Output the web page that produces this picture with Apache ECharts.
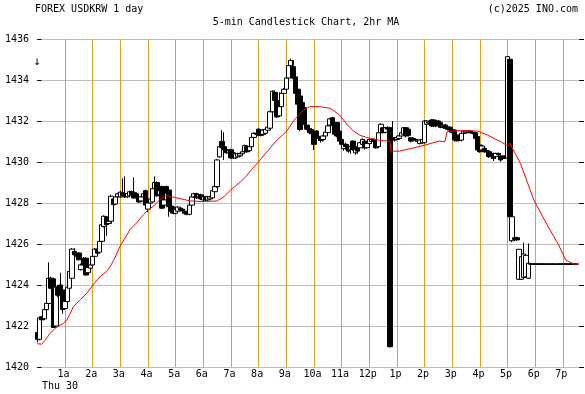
<!DOCTYPE html>
<html>
<head>
<meta charset="utf-8">
<script src="https://cdn.jsdelivr.net/npm/echarts@6/dist/echarts.min.js"></script>
<style>
html,body{margin:0;padding:0;background:#fff;}
#chart{width:585px;height:394px;}
</style>
</head>
<body>
<div id="chart"></div>
<script>
// ---- texts ----
const TITLE_LEFT = 'FOREX USDKRW 1 day';
const TITLE_CENTER = '5-min Candlestick Chart, 2hr MA';
const TITLE_RIGHT = '(c)2025 INO.com';
const DATE_LABEL = 'Thu 30';

// ---- x axis: hour marks (minutes from midnight) and their labels ----
const HOUR_MINUTES = [60,120,180,240,300,360,420,480,540,600,660,720,780,840,900,960,1020,1080,1140];
const HOUR_LABELS = ['1a','2a','3a','4a','5a','6a','7a','8a','9a','10a','11a','12p','1p','2p','3p','4p','5p','6p','7p'];

// ---- y axis ----
const Y_MIN = 1420, Y_MAX = 1436, Y_STEP = 2;

// ---- 5-min candles: [minute, open, close, low, high] ----
const CANDLES_NIGHT = [
[0,1421.68,1421.35,1421.20,1421.75],[5,1421.35,1422.40,1421.30,1422.45],[10,1422.45,1422.30,1422.25,1422.50],
[15,1422.35,1422.80,1422.30,1422.85],[20,1422.80,1423.10,1422.75,1423.50],[25,1423.10,1424.33,1423.05,1425.10],
[30,1424.33,1423.84,1423.80,1424.40],[35,1424.30,1421.93,1421.90,1424.35],[40,1422.00,1423.90,1421.95,1424.00],
[45,1423.90,1423.50,1423.40,1424.00],[50,1424.00,1423.60,1423.55,1424.60],[55,1423.76,1422.81,1422.60,1423.80],
[60,1422.85,1423.20,1422.80,1423.30],[65,1423.19,1423.89,1423.15,1423.95],[70,1423.84,1424.66,1423.80,1424.70],
[75,1424.33,1425.75,1424.30,1425.80],[80,1425.64,1425.47,1425.20,1425.80],[85,1425.50,1425.40,1425.30,1425.60],
[90,1425.56,1425.23,1425.20,1425.60],[95,1424.75,1424.98,1424.70,1425.05],[100,1425.30,1424.98,1424.90,1425.35],
[105,1425.31,1424.49,1424.45,1425.35],[110,1424.60,1424.85,1424.55,1424.90],[115,1424.82,1424.98,1424.78,1425.05],
[120,1424.98,1425.40,1424.95,1425.45],[125,1425.40,1425.75,1425.35,1425.80],[130,1425.75,1425.55,1425.50,1425.80],
[135,1425.60,1426.13,1425.55,1426.15],[140,1426.13,1426.94,1426.10,1427.00],[145,1426.86,1427.35,1426.80,1427.40],
[150,1427.32,1426.94,1426.40,1427.35],[155,1427.00,1427.11,1426.95,1427.20],[160,1427.11,1428.33,1427.05,1428.40],
[165,1428.20,1427.92,1427.85,1428.25],[170,1427.95,1428.30,1427.90,1428.35],[175,1428.30,1428.45,1428.25,1428.50],
[180,1428.30,1428.53,1428.25,1428.60],[185,1428.50,1428.35,1428.30,1429.20],[190,1428.45,1428.30,1428.25,1429.30],
[195,1428.30,1428.45,1428.25,1428.50],[200,1428.35,1428.55,1428.30,1428.60],[205,1428.55,1428.40,1428.35,1428.60],
[210,1428.50,1428.25,1428.20,1429.25],[215,1428.45,1428.25,1428.20,1428.50],[220,1428.25,1428.05,1428.00,1428.30],
[225,1428.10,1428.30,1428.05,1428.35],[230,1428.30,1428.45,1428.25,1428.50],[235,1428.60,1427.90,1427.85,1428.65],
[240,1427.70,1428.00,1427.55,1428.05],[245,1428.00,1428.20,1427.95,1428.25],[250,1428.05,1428.70,1428.00,1428.75],
[255,1428.70,1429.00,1428.65,1429.30],[260,1429.00,1428.35,1428.30,1429.05],[265,1428.40,1428.60,1428.30,1428.65],
[270,1428.80,1427.75,1427.70,1428.85],[275,1427.90,1428.15,1427.85,1428.20],[280,1428.80,1428.47,1428.40,1428.85],
[285,1428.63,1427.82,1427.33,1428.65],[290,1427.85,1427.60,1427.50,1427.90],[295,1427.80,1427.50,1427.45,1427.85]
];
const CANDLES_MORNING = [
[300,1427.50,1427.70,1427.45,1427.75],[305,1427.60,1427.80,1427.55,1427.85],[310,1427.75,1427.65,1427.60,1427.80],
[315,1427.70,1427.62,1427.55,1427.75],[320,1427.60,1427.50,1427.45,1427.65],[325,1427.55,1427.45,1427.40,1427.60],
[330,1427.45,1427.90,1427.40,1427.95],[335,1427.90,1428.30,1427.85,1428.35],[340,1428.30,1428.45,1428.25,1428.50],
[345,1428.45,1428.25,1428.20,1428.50],[350,1428.30,1428.40,1428.25,1428.45],[355,1428.40,1428.20,1428.15,1428.45],
[360,1428.15,1428.30,1428.10,1428.35],[365,1428.30,1428.15,1428.10,1428.35],[370,1428.15,1428.30,1428.10,1428.35],
[375,1428.20,1428.30,1428.15,1428.35],[380,1428.25,1428.60,1428.20,1428.65],[385,1428.55,1428.80,1428.50,1428.85],
[390,1428.80,1430.10,1428.75,1430.15],[395,1430.25,1430.75,1430.20,1430.80],[400,1431.00,1430.70,1430.40,1431.55],
[405,1430.75,1430.60,1430.10,1431.45],[410,1430.60,1430.45,1430.40,1430.65],[415,1430.45,1430.55,1430.40,1430.60],
[420,1430.60,1430.20,1430.15,1430.65],[425,1430.45,1430.20,1430.15,1430.50],[430,1430.20,1430.40,1430.15,1430.45],
[435,1430.25,1430.40,1430.20,1430.45],[440,1430.30,1430.40,1430.25,1430.45],[445,1430.40,1430.50,1430.35,1430.55],
[450,1430.50,1430.80,1430.45,1430.85],[455,1430.75,1430.50,1430.45,1430.80],[460,1430.55,1430.75,1430.50,1430.80],
[465,1430.75,1431.20,1430.70,1431.25],[470,1431.20,1431.40,1431.15,1431.45],[475,1431.40,1431.35,1431.30,1431.50],
[480,1431.60,1431.30,1431.25,1431.65],[485,1431.55,1431.30,1431.25,1431.60],[490,1431.35,1431.55,1431.30,1431.60],
[495,1431.40,1431.60,1431.35,1431.65],[500,1431.55,1431.70,1431.50,1431.75],[505,1431.65,1432.45,1431.60,1432.50],
[510,1432.45,1433.45,1432.40,1433.50],[515,1433.40,1433.00,1432.90,1433.50],[520,1433.00,1432.20,1432.15,1433.05],
[525,1432.25,1432.70,1432.20,1433.40],[530,1432.70,1433.35,1432.65,1433.40],[535,1433.35,1433.55,1433.30,1433.60],
[540,1433.55,1434.10,1433.50,1434.15],[545,1434.10,1434.70,1434.05,1434.75],[550,1434.70,1434.95,1434.65,1435.05],
[555,1434.65,1434.10,1434.05,1434.95],[560,1434.15,1433.35,1433.30,1434.20],[565,1433.55,1432.82,1432.75,1433.60],
[570,1433.22,1431.59,1431.50,1433.25],[575,1432.90,1432.57,1432.50,1432.95],[580,1432.65,1431.84,1431.80,1432.70],
[585,1431.80,1431.60,1431.55,1431.85],[590,1431.62,1431.43,1431.35,1431.70],[595,1431.59,1431.40,1431.35,1431.65]
];
const CANDLES_MIDDAY = [
[600,1431.43,1430.86,1430.58,1431.45],[605,1431.51,1431.27,1431.20,1431.55],[610,1431.25,1431.15,1431.05,1431.30],
[615,1431.15,1431.05,1430.95,1431.20],[620,1431.10,1431.27,1431.00,1431.30],[625,1431.27,1431.46,1431.20,1431.50],
[630,1431.43,1431.76,1431.40,1431.80],[635,1431.80,1432.10,1431.75,1432.15],[640,1432.16,1431.79,1431.75,1432.20],
[645,1431.92,1431.35,1431.30,1431.95],[650,1431.92,1431.27,1431.20,1431.95],[655,1431.51,1431.02,1430.95,1431.55],
[660,1431.10,1430.86,1430.80,1431.15],[665,1430.65,1430.86,1430.55,1430.90],[670,1430.86,1430.75,1430.60,1430.95],
[675,1430.76,1430.53,1430.45,1430.80],[680,1430.60,1430.74,1430.40,1430.78],[685,1431.02,1430.61,1430.55,1431.05],
[690,1430.45,1430.61,1430.35,1430.65],[695,1430.74,1430.53,1430.40,1430.80],[700,1430.69,1430.94,1430.60,1430.98],
[705,1430.86,1431.10,1430.80,1431.15],[710,1431.02,1430.69,1430.60,1431.05],[715,1430.70,1430.90,1430.65,1430.95],
[720,1430.90,1431.10,1430.85,1431.15],[725,1431.00,1431.10,1430.95,1431.15],[730,1431.10,1431.05,1430.95,1431.15],
[735,1431.02,1430.69,1430.65,1431.05],[740,1430.75,1431.43,1430.70,1431.50],[745,1431.43,1431.84,1431.40,1431.88],
[750,1431.67,1431.43,1431.40,1431.70],[755,1431.45,1431.67,1431.40,1431.70],[760,1431.67,1431.60,1431.55,1431.75],
[765,1431.67,1420.99,1420.95,1431.70],[770,1431.18,1431.10,1430.94,1432.00],[775,1431.14,1431.07,1431.00,1431.20],
[780,1431.10,1431.20,1431.05,1431.25],[785,1431.15,1431.27,1431.10,1431.30],[790,1431.27,1431.43,1431.20,1431.45],
[795,1431.35,1431.67,1431.30,1431.70],[800,1431.67,1431.27,1431.20,1431.70],[805,1431.60,1431.30,1431.25,1431.65],
[810,1431.18,1431.02,1430.95,1431.20],[815,1431.14,1431.07,1431.00,1431.20],[820,1431.07,1431.10,1431.00,1431.15],
[825,1431.00,1431.07,1430.90,1431.10],[830,1430.91,1431.07,1430.85,1431.10],[835,1430.94,1431.10,1430.90,1431.15],
[840,1430.94,1432.00,1430.90,1432.05],[845,1431.84,1432.00,1431.80,1432.05],[850,1431.90,1431.95,1431.85,1432.00],
[855,1432.05,1431.76,1431.70,1432.10],[860,1432.05,1431.76,1431.70,1432.10],[865,1431.97,1431.76,1431.70,1432.00],
[870,1432.00,1431.80,1431.75,1432.05],[875,1431.92,1431.69,1431.65,1431.95],[880,1431.75,1431.80,1431.65,1431.85],
[885,1431.80,1431.64,1431.60,1431.85],[890,1431.70,1431.60,1431.55,1431.75],[895,1431.70,1431.56,1431.50,1431.75]
];
const CANDLES_AFTERNOON = [
[900,1431.56,1431.45,1431.40,1431.60],[905,1431.56,1431.07,1430.99,1431.60],[910,1431.32,1431.04,1431.00,1431.35],
[915,1431.27,1431.07,1431.00,1431.30],[920,1431.07,1431.40,1431.00,1431.45],[925,1431.40,1431.51,1431.35,1431.55],
[930,1431.43,1431.51,1431.40,1431.55],[935,1431.45,1431.51,1431.40,1431.55],[940,1431.51,1431.43,1431.40,1431.55],
[945,1431.45,1431.40,1431.35,1431.50],[950,1431.43,1431.15,1431.10,1431.45],[955,1431.24,1430.59,1430.55,1431.30],
[960,1430.83,1430.50,1430.45,1430.85],[965,1430.59,1430.78,1430.55,1430.80],[970,1430.67,1430.50,1430.45,1430.70],
[975,1430.55,1430.50,1430.40,1430.60],[980,1430.50,1430.26,1430.20,1430.55],[985,1430.42,1430.26,1430.15,1430.45],
[990,1430.39,1430.18,1430.05,1430.45],[995,1430.26,1430.42,1430.15,1430.45],[1000,1430.42,1430.35,1430.30,1430.45],
[1005,1430.29,1430.10,1430.02,1430.30],[1010,1430.29,1430.18,1430.10,1430.30],[1015,1430.29,1430.20,1430.15,1430.30],
[1020,1430.20,1435.14,1430.15,1435.15],[1025,1435.01,1427.33,1427.30,1435.05],[1030,1426.16,1427.33,1426.10,1427.35],
[1035,1426.30,1426.22,1426.15,1426.35],[1040,1426.31,1426.20,1426.15,1426.35],[1045,1424.28,1425.74,1424.25,1425.76],
[1050,1424.28,1425.38,1424.25,1425.40],[1055,1424.37,1425.51,1424.30,1426.07],[1060,1424.40,1425.45,1424.35,1425.50],
[1065,1424.33,1425.06,1424.30,1426.03]
];
const CANDLES_EVENING = [
[1070,1425.02,1425.02,1425.02,1425.02],[1075,1425.02,1425.02,1425.02,1425.02],[1080,1425.02,1425.02,1425.02,1425.02],
[1085,1425.02,1425.02,1425.02,1425.02],[1090,1425.02,1425.02,1425.02,1425.02],[1095,1425.02,1425.02,1425.02,1425.02],
[1100,1425.02,1425.02,1425.02,1425.02],[1105,1425.02,1425.02,1425.02,1425.02],[1110,1425.02,1425.02,1425.02,1425.02],
[1115,1425.02,1425.02,1425.02,1425.02],[1120,1425.02,1425.02,1425.02,1425.02],[1125,1425.02,1425.02,1425.02,1425.02],
[1130,1425.02,1425.02,1425.02,1425.02],[1135,1425.02,1425.02,1425.02,1425.02],[1140,1425.02,1425.02,1425.02,1425.02],
[1145,1425.02,1425.02,1425.02,1425.02],[1150,1425.02,1425.02,1425.02,1425.02],[1155,1425.02,1425.02,1425.02,1425.02],
[1160,1425.02,1425.02,1425.02,1425.02],[1165,1425.02,1425.02,1425.02,1425.02],[1170,1425.02,1425.02,1425.02,1425.02]
];

// ---- 2hr moving average: [minute, value] ----
const MA_POINTS = [
[0,1421.14],[9,1421.11],[17,1421.31],[27,1421.63],[38,1421.88],[49,1422.04],[56,1422.12],[64,1422.29],
[71,1422.61],[78,1422.94],[92,1423.27],[107,1423.59],[118,1423.92],[129,1424.25],[140,1424.49],[150,1424.66],
[158,1424.90],[168,1425.31],[179,1425.88],[190,1426.29],[201,1426.70],[215,1427.03],[230,1427.43],[241,1427.68],
[252,1427.84],[266,1428.17],[280,1428.37],[300,1428.26],[332,1428.10],[362,1428.07],[390,1428.10],[405,1428.31],
[419,1428.63],[441,1429.04],[452,1429.28],[465,1429.64],[479,1429.98],[492,1430.34],[520,1431.07],[540,1431.48],
[560,1432.13],[578,1432.54],[591,1432.70],[612,1432.70],[635,1432.62],[656,1432.29],[671,1431.85],[685,1431.52],
[700,1431.30],[714,1431.20],[743,1431.05],[765,1431.02],[767,1430.53],[785,1430.53],[839,1430.81],[871,1431.02],
[884,1430.99],[889,1431.48],[911,1431.53],[954,1431.51],[976,1431.32],[1005,1430.99],[1021,1430.78],[1025,1430.91],
[1048,1429.93],[1077,1428.15],[1106,1426.93],[1131,1425.95],[1146,1425.22],[1164,1425.02],[1175,1425.02]
];

const CANDLES = [].concat(CANDLES_NIGHT, CANDLES_MORNING, CANDLES_MIDDAY, CANDLES_AFTERNOON, CANDLES_EVENING);

const FONT = '"DejaVu Sans Mono", "Liberation Mono", monospace';
const ORANGE = '#e6a01e';
const GRID_GRAY = '#bebebe';

const chart = echarts.init(document.getElementById('chart'), null, {renderer: 'canvas'});

function txt(text, x, y, align, vAlign, size) {
  return {
    type: 'text', silent: true, z: 100,
    style: {
      text: text, x: x, y: y,
      font: (size || 10) + 'px ' + FONT,
      fill: '#000',
      align: align, verticalAlign: vAlign,
      textAlign: align, textVerticalAlign: vAlign
    }
  };
}

const option = {
  animation: false,
  backgroundColor: '#fff',
  grid: {left: 36, right: 6, top: 39, bottom: 27, containLabel: false, outerBoundsMode: 'none'},
  xAxis: {
    type: 'value', min: -3, max: 1175,
    axisLine: {show: false},
    axisTick: {show: false},
    splitLine: {show: false},
    axisLabel: {
      customValues: HOUR_MINUTES,
      formatter: function (v) { const i = HOUR_MINUTES.indexOf(v); return i >= 0 ? HOUR_LABELS[i] : ''; },
      fontFamily: FONT, fontSize: 10, color: '#000', margin: 2,
      padding: [0, 3, 0, 0], hideOverlap: false
    }
  },
  yAxis: [{
    type: 'value', position: 'left', min: Y_MIN, max: Y_MAX, interval: Y_STEP,
    axisLine: {show: false},
    axisTick: {show: true, inside: true, length: 4, lineStyle: {color: '#000', width: 1}},
    axisLabel: {fontFamily: FONT, fontSize: 10, color: '#000', margin: 7,
      formatter: function (v) { return String(v); }},
    splitLine: {show: true, lineStyle: {color: GRID_GRAY, width: 1}}
  }, {
    type: 'value', position: 'right', min: Y_MIN, max: Y_MAX, interval: Y_STEP,
    axisLine: {show: false},
    axisTick: {show: true, inside: false, length: 5, lineStyle: {color: '#000', width: 1}},
    axisLabel: {show: false},
    splitLine: {show: false}
  }],
  series: [{
    type: 'line', data: [], z: 1, silent: true,
    markLine: {
      silent: true, symbol: ['none', 'none'], z: 1,
      label: {show: false},
      lineStyle: {color: ORANGE, width: 1, type: 'solid'},
      emphasis: {disabled: true},
      data: HOUR_MINUTES.map(function (m) { return {xAxis: m}; })
    }
  }, {
    type: 'candlestick', z: 3, clip: false, barWidth: 5,
    encode: {x: 0, y: [1, 2, 3, 4]},
    data: CANDLES,
    itemStyle: {color: '#ffffff', color0: '#000000', borderColor: '#000000', borderColor0: '#000000', borderColorDoji: '#000000', borderWidth: 1}
  }, {
    type: 'line', z: 4, data: MA_POINTS, showSymbol: false, smooth: false, clip: false,
    lineStyle: {color: '#ff0000', width: 1}
  }],
  graphic: [
    txt(TITLE_LEFT, 35, 9, 'left', 'middle'),
    txt(TITLE_CENTER, 306, 22, 'center', 'middle'),
    txt(TITLE_RIGHT, 578, 9, 'right', 'middle'),
    txt(DATE_LABEL, 42, 386, 'left', 'middle'),
    txt('\u2193', 37, 62, 'center', 'middle', 12)
  ]
};
chart.setOption(option);
</script>
</body>
</html>
